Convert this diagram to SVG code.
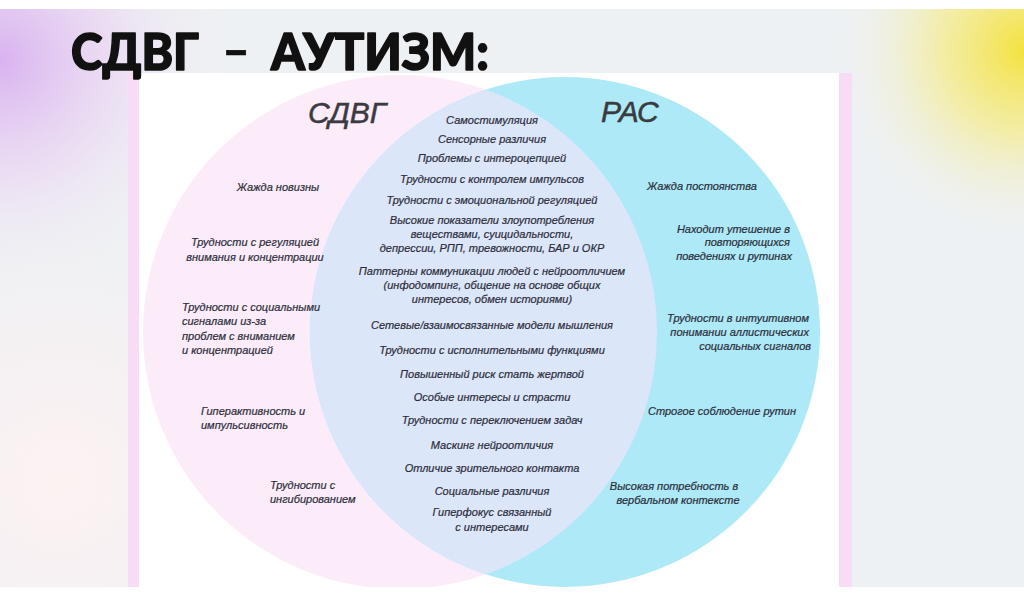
<svg xmlns="http://www.w3.org/2000/svg" width="1024" height="597" viewBox="0 0 1024 597">
<defs>
<radialGradient id="gPurple" cx="0" cy="60" r="230" gradientUnits="userSpaceOnUse">
<stop offset="0" stop-color="#d9b2ef"/><stop offset="0.5" stop-color="#ead6f3" stop-opacity="0.7"/><stop offset="1" stop-color="#f4eef6" stop-opacity="0"/>
</radialGradient>
<radialGradient id="gYellow" cx="1024" cy="50" r="190" gradientUnits="userSpaceOnUse">
<stop offset="0" stop-color="#f4e23e"/><stop offset="0.45" stop-color="#f4ec98" stop-opacity="0.8"/><stop offset="1" stop-color="#eef1f2" stop-opacity="0"/>
</radialGradient>
<radialGradient id="gPink" cx="60" cy="480" r="260" gradientUnits="userSpaceOnUse">
<stop offset="0" stop-color="#fdf2f2"/><stop offset="1" stop-color="#fbf0f4" stop-opacity="0"/>
</radialGradient>
<clipPath id="clipL"><circle cx="400" cy="332" r="257"/></clipPath>
<clipPath id="clipPanel"><rect x="139" y="73" width="700" height="514"/></clipPath>
<style>
.t{font-family:"Liberation Sans",Arial,sans-serif;font-style:italic;font-size:11px;fill:#2b2c3a;stroke:#2b2c3a;stroke-width:0.2px;}
.c{text-anchor:middle;}
.r{text-anchor:end;}
.h{font-family:"Liberation Sans",Arial,sans-serif;font-style:italic;font-size:30px;fill:#3a3a40;stroke:#3a3a40;stroke-width:0.5px;}
.title{font-family:Lato,"DejaVu Sans",sans-serif;font-weight:900;font-size:51px;fill:#111;stroke:#111;stroke-width:1.6px;stroke-linejoin:round;}
</style>
</defs>
<g id="background">
<rect x="0" y="0" width="1024" height="597" fill="#ffffff"/>
<rect x="0" y="9" width="1024" height="578" fill="#eef1f3"/>
<rect x="0" y="9" width="1024" height="578" fill="url(#gPink)"/>
<rect x="0" y="9" width="1024" height="578" fill="url(#gPurple)"/>
<rect x="0" y="9" width="1024" height="578" fill="url(#gYellow)"/>
<rect x="128" y="73" width="11" height="514" fill="#f8dcf6"/>
<rect x="839" y="73" width="13" height="514" fill="#f8dcf6"/>
<rect x="139" y="73" width="700" height="514" fill="#ffffff"/>
</g>
<g id="title">
<text class="title" x="71" y="70" textLength="128" lengthAdjust="spacingAndGlyphs">СДВГ</text>
<text class="title" transform="translate(222,0) scale(0.95,1)" x="0" y="68" style="stroke-width:0.3px">–</text>
<text class="title" x="271" y="70" textLength="218" lengthAdjust="spacingAndGlyphs">АУТИЗМ:</text>
</g>
<g id="venn" clip-path="url(#clipPanel)">
<circle id="circle-adhd" cx="400" cy="332" r="257" fill="#fcecf9"/>
<circle id="circle-asd" cx="565" cy="332" r="255" fill="#ade9f6"/>
<circle id="overlap" cx="565" cy="332" r="255" fill="#dce6f9" clip-path="url(#clipL)"/>
</g>
<g id="label-adhd"><text class="h" x="308" y="123">СДВГ</text></g>
<g id="label-asd"><text class="h" x="601" y="122">РАС</text></g>
<g id="adhd-items">
<g id="l1"><text class="t c" x="278" y="191">Жажда новизны</text></g>
<g id="l2"><text class="t c" x="255" y="246">Трудности с регуляцией</text><text class="t c" x="255" y="261">внимания и концентрации</text></g>
<g id="l3"><text class="t" x="182" y="311">Трудности с социальными</text><text class="t" x="182" y="325">сигналами из-за</text><text class="t" x="182" y="340">проблем с вниманием</text><text class="t" x="182" y="354">и концентрацией</text></g>
<g id="l4"><text class="t" x="201" y="415">Гиперактивность и</text><text class="t" x="201" y="429">импульсивность</text></g>
<g id="l5"><text class="t" x="270" y="489">Трудности с</text><text class="t" x="270" y="503">ингибированием</text></g>
</g>
<g id="shared-items">
<g id="c1"><text class="t c" x="492" y="124">Самостимуляция</text></g>
<g id="c2"><text class="t c" x="492" y="143">Сенсорные различия</text></g>
<g id="c3"><text class="t c" x="492" y="162">Проблемы с интероцепцией</text></g>
<g id="c4"><text class="t c" x="492" y="183">Трудности с контролем импульсов</text></g>
<g id="c5"><text class="t c" x="492" y="204">Трудности с эмоциональной регуляцией</text></g>
<g id="c6"><text class="t c" x="492" y="224">Высокие показатели злоупотребления</text><text class="t c" x="492" y="238">веществами, суицидальности,</text><text class="t c" x="492" y="252">депрессии, РПП, тревожности, БАР и ОКР</text></g>
<g id="c7"><text class="t c" x="492" y="275">Паттерны коммуникации людей с нейроотличием</text><text class="t c" x="492" y="289">(инфодомпинг, общение на основе общих</text><text class="t c" x="492" y="303">интересов, обмен историями)</text></g>
<g id="c8"><text class="t c" x="492" y="329">Сетевые/взаимосвязанные модели мышления</text></g>
<g id="c9"><text class="t c" x="492" y="354">Трудности с исполнительными функциями</text></g>
<g id="c10"><text class="t c" x="492" y="378">Повышенный риск стать жертвой</text></g>
<g id="c11"><text class="t c" x="492" y="401">Особые интересы и страсти</text></g>
<g id="c12"><text class="t c" x="492" y="424">Трудности с переключением задач</text></g>
<g id="c13"><text class="t c" x="492" y="449">Маскинг нейроотличия</text></g>
<g id="c14"><text class="t c" x="492" y="472">Отличие зрительного контакта</text></g>
<g id="c15"><text class="t c" x="492" y="495">Социальные различия</text></g>
<g id="c16"><text class="t c" x="492" y="516">Гиперфокус связанный</text><text class="t c" x="492" y="531">с интересами</text></g>
</g>
<g id="asd-items">
<g id="r1"><text class="t c" x="702" y="190">Жажда постоянства</text></g>
<g id="r2"><text class="t r" x="790" y="233">Находит утешение в</text><text class="t r" x="790" y="246">повторяющихся</text><text class="t r" x="792" y="260">поведениях и рутинах</text></g>
<g id="r3"><text class="t r" x="809" y="322">Трудности в интуитивном</text><text class="t r" x="809" y="336">понимании аллистических</text><text class="t r" x="811" y="350">социальных сигналов</text></g>
<g id="r4"><text class="t c" x="722" y="415">Строгое соблюдение рутин</text></g>
<g id="r5"><text class="t c" x="674" y="490">Высокая потребность в</text><text class="t c" x="678" y="504">вербальном контексте</text></g>
</g>
</svg>
